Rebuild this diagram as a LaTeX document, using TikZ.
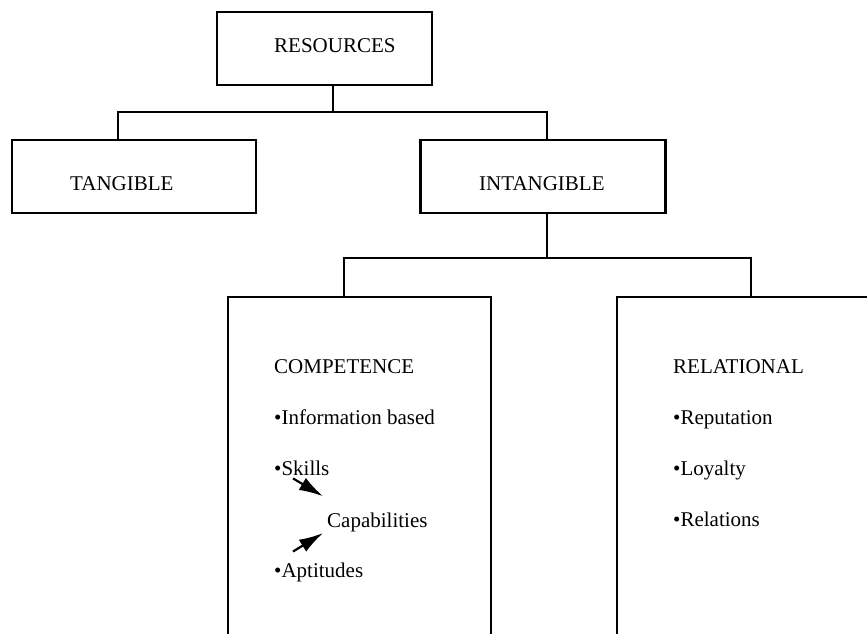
\documentclass[tikz,border=0pt]{standalone}
\usepackage{fontspec}
\setmainfont{Liberation Serif}
\usepackage{tikz}
\usetikzlibrary{arrows.meta,positioning,calc}
\tikzset{
  classbox/.style={draw=black,line width=2.1pt,minimum width=#1,
    minimum height=73pt,inner sep=0pt},
  groupbox/.style={draw=black,line width=2.1pt,anchor=north west,
    minimum height=380pt,inner sep=0pt},
  boxtext/.style={anchor=base west,inner sep=0pt,
    font=\fontsize{21}{25}\selectfont,text=black},
  treeline/.style={line width=2.1pt,draw=black},
  feedarrow/.style={-{Latex[length=24pt,width=14pt]},line width=2.2pt}
}
\begin{document}
\begin{tikzpicture}[x=1pt,y=-1pt]
  \useasboundingbox (0,0) rectangle (867,633);
  \clip (0,0) rectangle (867,633);
  \node[classbox=215pt] (res) at (324.5,48.5) {};
  \node[classbox=244pt] (tang) at (134,176.5) {};
  \node[classbox=245pt] (intang) at (543,176.5) {};
  \node[groupbox,minimum width=263pt] (comp) at (226.5,295.5) {};
  \node[groupbox,minimum width=290pt] (rel) at (615.5,295.5) {};
  \node[boxtext] (restext) at (274,52) {RESOURCES};
  \node[boxtext] (tangtext) at (70,190) {TANGIBLE};
  \node[boxtext] (intangtext) at (479,190) {INTANGIBLE};
  \node[boxtext] (comphead) at (274,373) {COMPETENCE};
  \node[boxtext] (info) at (274,424) {•Information based};
  \node[boxtext] (skills) at (274,475) {•Skills};
  \node[boxtext] (capab) at (327,527) {Capabilities};
  \node[boxtext] (apt) at (274,577) {•Aptitudes};
  \node[boxtext] (relhead) at (673,373) {RELATIONAL};
  \node[boxtext] (repu) at (673,424) {•Reputation};
  \node[boxtext] (loyal) at (673,475) {•Loyalty};
  \node[boxtext] (relations) at (673,526) {•Relations};
  \coordinate (fork1) at (333,112);
  \coordinate (fork2) at (547,258);
  \draw[treeline] ([xshift=8.5pt]res.south) -- (fork1);
  \draw[treeline] ([xshift=-16pt]tang.north) |- (fork1) -| ([xshift=4pt]intang.north);
  \draw[treeline] ([xshift=4pt]intang.south) -- (fork2);
  \draw[treeline] ([xshift=-15pt]comp.north) |- (fork2) -| ([xshift=135.5pt]rel.north west);
  \draw[feedarrow] ([xshift=19pt,yshift=-3pt]skills.south west) -- ([xshift=-4pt,yshift=16pt]capab.north west);
  \draw[feedarrow] ([xshift=19pt,yshift=10.7pt]apt.north west) -- ([xshift=-4pt,yshift=-1.4pt]capab.south west);
\end{tikzpicture}
\end{document}
